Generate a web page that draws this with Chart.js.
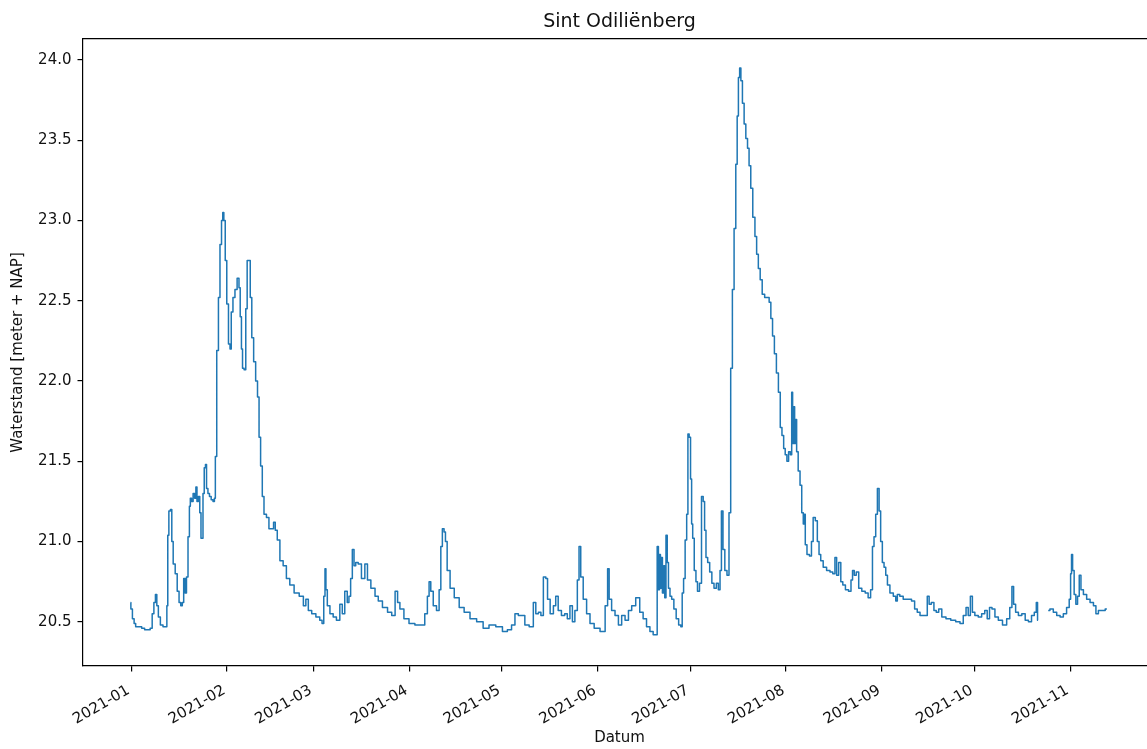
<!DOCTYPE html>
<html>
<head>
<meta charset="utf-8">
<script src="https://cdn.jsdelivr.net/npm/chart.js@4.4.1/dist/chart.umd.min.js"></script>
<style>
html,body{margin:0;padding:0;background:#fff;overflow:hidden;width:1147px;height:749px}
#wrap{position:absolute;left:0;top:0;width:1166px;height:749px}
canvas{display:block}
</style>
</head>
<body>
<div id="wrap"><canvas id="c" width="1166" height="749"></canvas></div>
<script>
// Days since 2021-01-01 (x) and water level in m + NAP (y)
const days = [
  -0.2,0.0,0.8,1.1,1.8,3.0,3.8,4.9,5.8,6.5,
  7.1,7.6,8.1,8.5,9.1,9.8,10.8,11.4,11.7,12.0,
  12.4,13.0,13.3,13.9,14.6,15.2,15.8,16.3,16.8,17.2,
  17.7,18.1,18.7,19.0,19.3,19.8,20.3,20.8,21.1,21.5,
  22.0,22.4,22.8,23.1,23.4,23.9,24.2,24.6,25.1,25.6,
  26.2,26.8,27.1,27.4,28.0,28.5,29.0,29.5,29.8,30.2,
  30.7,31.2,31.8,32.2,32.6,33.3,33.9,34.7,35.1,35.5,
  35.9,36.2,36.9,37.3,37.8,38.3,38.8,39.3,40.0,40.6,
  41.2,41.6,42.2,42.7,43.3,44.3,44.9,45.9,46.3,47.0,
  47.6,48.7,49.7,50.8,51.9,53.6,55.2,56.3,56.8,57.9,
  59.0,60.6,61.5,62.1,62.6,62.9,63.2,63.8,64.9,65.9,
  67.0,68.1,68.6,69.7,70.2,70.8,71.3,71.9,72.4,73.0,
  74.0,75.1,76.2,76.8,78.4,79.5,80.5,82.2,83.8,84.9,
  86.0,86.5,87.5,89.1,90.8,92.9,94.5,95.6,96.2,96.7,
  97.3,98.3,99.4,100.0,100.5,101.0,101.6,101.9,102.7,103.8,
  105.4,107.0,108.6,110.8,112.9,115.0,116.7,119.4,121.0,122.6,
  123.7,124.8,125.9,126.9,128.0,129.7,130.7,131.3,132.4,132.9,
  134.0,134.5,135.1,136.2,137.2,137.7,138.8,139.8,140.9,141.5,
  142.6,143.1,144.2,144.7,145.3,145.8,146.9,148.0,149.1,150.7,
  152.9,154.0,154.5,155.0,156.1,157.2,158.3,159.3,160.5,161.5,
  162.6,164.1,165.2,166.3,167.4,168.5,169.5,170.1,
  170.5,170.9,171.2,171.5,171.8,172.2,172.6,172.9,173.4,173.7,
  174.2,174.7,175.3,176.1,176.8,177.7,178.2,178.6,179.1,179.6,
  180.1,180.4,180.9,181.3,181.6,182.0,182.6,183.1,183.6,184.4,
  184.9,185.5,185.8,186.4,186.9,187.7,188.3,189.1,189.8,190.4,
  190.9,191.3,191.9,192.5,193.3,193.8,194.4,194.9,195.5,196.0,
  196.4,196.8,197.2,197.6,198.2,198.7,199.3,199.8,200.3,200.9,
  201.6,202.3,202.7,203.4,203.9,204.7,205.5,206.3,206.8,207.4,
  207.9,208.6,209.2,209.9,210.4,211.0,211.5,212.0,212.6,213.1,
  213.7,214.0,214.3,214.6,215.0,215.3,215.6,216.3,216.8,217.4,
  217.8,218.1,218.4,219.2,220.0,220.5,221.1,221.9,222.4,223.0,
  223.5,224.6,225.7,226.8,227.5,228.2,228.6,229.5,230.0,230.8,
  231.7,232.8,233.3,233.8,234.4,235.1,236.0,237.1,238.2,239.0,
  239.8,240.2,240.8,241.3,241.9,242.4,242.9,243.5,
  244.0,244.6,245.1,246.2,247.3,247.8,248.3,249.4,250.5,252.1,
  253.2,254.1,254.9,255.9,257.4,258.1,258.6,259.5,260.3,261.0,
  261.9,263.0,264.6,266.1,267.8,268.9,269.9,270.7,271.3,272.1,
  272.6,273.7,274.8,275.9,276.8,277.5,278.3,279.1,280.2,281.3,
  282.9,284.0,284.9,285.4,286.0,286.7,287.8,288.9,290.0,291.0,
  292.0,292.8,293.3,293.6,295.0,296.9,298.0,299.1,300.2,301.3,
  302.3,303.4,304.0,304.3,304.6,305.0,305.6,306.1,306.7,307.2,
  307.8,308.8,309.9,311.0,312.1,312.6,313.7,314.8,315.9
];
const levels = [
  20.62,20.58,20.52,20.49,20.47,20.47,20.46,20.45,20.45,20.46,
  20.55,20.62,20.67,20.60,20.53,20.48,20.47,20.47,20.60,21.04,
  21.19,21.20,21.00,20.86,20.80,20.69,20.62,20.60,20.62,20.77,
  20.68,20.78,21.03,21.22,21.27,21.25,21.30,21.27,21.34,21.25,
  21.28,21.18,21.02,21.02,21.30,21.46,21.48,21.33,21.30,21.28,
  21.26,21.25,21.27,21.53,22.19,22.52,22.85,23.00,23.05,23.00,
  22.75,22.48,22.23,22.20,22.43,22.52,22.57,22.64,22.58,22.40,
  22.20,22.08,22.07,22.45,22.75,22.75,22.52,22.27,22.12,22.00,
  21.90,21.65,21.47,21.28,21.17,21.15,21.08,21.08,21.12,21.07,
  21.01,20.88,20.85,20.77,20.73,20.68,20.66,20.60,20.64,20.57,
  20.55,20.53,20.51,20.49,20.66,20.83,20.70,20.60,20.55,20.53,
  20.51,20.61,20.55,20.69,20.62,20.66,20.77,20.95,20.85,20.87,
  20.86,20.77,20.86,20.76,20.71,20.66,20.63,20.59,20.56,20.54,
  20.69,20.62,20.58,20.52,20.49,20.48,20.48,20.55,20.66,20.75,
  20.69,20.60,20.57,20.70,20.97,21.08,21.06,21.00,20.82,20.71,
  20.65,20.59,20.56,20.52,20.50,20.46,20.48,20.47,20.44,20.45,
  20.48,20.55,20.54,20.54,20.48,20.47,20.62,20.55,20.56,20.54,
  20.78,20.77,20.64,20.55,20.60,20.66,20.57,20.54,20.55,20.52,
  20.60,20.50,20.57,20.76,20.97,20.78,20.64,20.55,20.49,20.46,
  20.44,20.60,20.83,20.64,20.57,20.54,20.48,20.54,20.51,20.57,
  20.60,20.65,20.56,20.52,20.47,20.44,20.42,20.42,
  20.97,20.70,20.92,20.71,20.90,20.68,20.85,20.65,21.04,20.87,
  20.71,20.66,20.64,20.58,20.52,20.48,20.47,20.68,20.77,21.01,
  21.17,21.67,21.65,21.39,21.11,21.02,20.82,20.75,20.69,20.74,
  21.28,21.25,21.07,20.90,20.87,20.81,20.74,20.71,20.74,20.70,
  20.82,21.19,20.95,20.82,20.79,21.18,22.08,22.57,22.95,23.35,
  23.65,23.89,23.95,23.87,23.73,23.60,23.51,23.45,23.34,23.20,
  23.02,22.90,22.79,22.70,22.63,22.54,22.52,22.52,22.49,22.39,
  22.28,22.17,22.05,21.93,21.71,21.66,21.58,21.54,21.50,21.56,
  21.54,21.93,21.61,21.84,21.61,21.76,21.56,21.44,21.35,21.18,
  21.11,21.17,20.98,20.92,20.91,21.00,21.15,21.13,21.00,20.92,
  20.88,20.84,20.82,20.81,20.80,20.90,20.79,20.87,20.75,20.73,
  20.70,20.69,20.76,20.82,20.79,20.81,20.71,20.69,20.68,20.65,
  20.70,20.97,21.03,21.17,21.33,21.19,21.00,20.87,
  20.84,20.79,20.73,20.68,20.66,20.63,20.67,20.66,20.64,20.64,
  20.63,20.58,20.56,20.54,20.54,20.66,20.61,20.62,20.57,20.56,
  20.58,20.53,20.52,20.51,20.50,20.49,20.54,20.59,20.54,20.66,
  20.56,20.54,20.53,20.55,20.57,20.52,20.59,20.58,20.53,20.51,
  20.48,20.52,20.59,20.72,20.61,20.56,20.54,20.55,20.51,20.50,
  20.54,20.56,20.62,20.51,null,20.57,20.58,20.56,20.54,20.53,
  20.55,20.59,20.64,20.80,20.92,20.82,20.67,20.61,20.66,20.79,
  20.70,20.67,20.64,20.62,20.60,20.55,20.57,20.57,20.58
];
// Month tick positions (days since 2021-01-01) and their labels
const monthStarts = [0,31,59,90,120,151,181,212,243,273,304];
const monthLabels = ['2021-01','2021-02','2021-03','2021-04','2021-05','2021-06','2021-07','2021-08','2021-09','2021-10','2021-11'];
const yTicks = [20.5,21.0,21.5,22.0,22.5,23.0,23.5,24.0];
const chartTitle = 'Sint Odiliënberg';
const xTitle = 'Datum';
const yTitle = 'Waterstand [meter + NAP]';

const points = days.map((d, i) => ({x: d, y: levels[i]}));
const family = "'DejaVu Sans', sans-serif";
const ink = '#111';

new Chart(document.getElementById('c'), {
  type: 'line',
  data: {
    datasets: [{
      data: points,
      borderColor: '#1f77b4',
      borderWidth: 1.5,
      pointRadius: 0,
      stepped: 'middle',
      spanGaps: false,
      fill: false,
      borderJoinStyle: 'round',
      xAxisID: 'x',
      yAxisID: 'y'
    }]
  },
  options: {
    responsive: false,
    animation: false,
    events: [],
    layout: { padding: { left: 0, right: 10, top: 0, bottom: 0 } },
    plugins: { legend: { display: false }, tooltip: { enabled: false }, title: { display: false } },
    scales: {
      x: {
        type: 'linear', position: 'bottom', min: -15.6, max: 331.8,
        afterFit: s => { s.height = 83; },
        afterBuildTicks: s => { s.ticks = monthStarts.map(v => ({ value: v })); },
        ticks: {
          autoSkip: false, minRotation: 30, maxRotation: 30, padding: 10, labelOffset: -2.5, color: ink,
          font: { family, size: 15 },
          callback: (v, i) => monthLabels[i]
        },
        grid: { display: true, drawOnChartArea: false, drawTicks: true, tickLength: 5.5, color: '#000', lineWidth: 1.2 },
        border: { display: true, color: '#000', width: 1.2 },
        title: { display: true, text: xTitle, color: ink, font: { family, size: 15 }, padding: { top: 0, bottom: 1.7 } }
      },
      x2: {
        type: 'linear', axis: 'x', position: 'top', min: -15.6, max: 331.8,
        afterFit: s => { s.height = 39; },
        ticks: { display: false },
        grid: { display: true, drawOnChartArea: false, drawTicks: false, color: '#000', lineWidth: 1.2 },
        border: { display: true, color: '#000', width: 1.2 },
        title: { display: true, text: chartTitle, color: ink, font: { family, size: 19 }, padding: { top: 10.6, bottom: 0 } }
      },
      y: {
        type: 'linear', position: 'left', min: 20.225, max: 24.13,
        afterFit: s => { s.width = 83; },
        afterBuildTicks: s => { s.ticks = yTicks.map(v => ({ value: v })); },
        ticks: { autoSkip: false, padding: 6, color: ink, font: { family, size: 15 }, callback: v => Number(v).toFixed(1) },
        grid: { display: true, drawOnChartArea: false, drawTicks: true, tickLength: 5.5, color: '#000', lineWidth: 1.2 },
        border: { display: true, color: '#000', width: 1.2 },
        title: { display: true, text: yTitle, color: ink, font: { family, size: 15 }, padding: { top: 9.3, bottom: 0 } }
      }
    }
  }
});
</script>
</body>
</html>
